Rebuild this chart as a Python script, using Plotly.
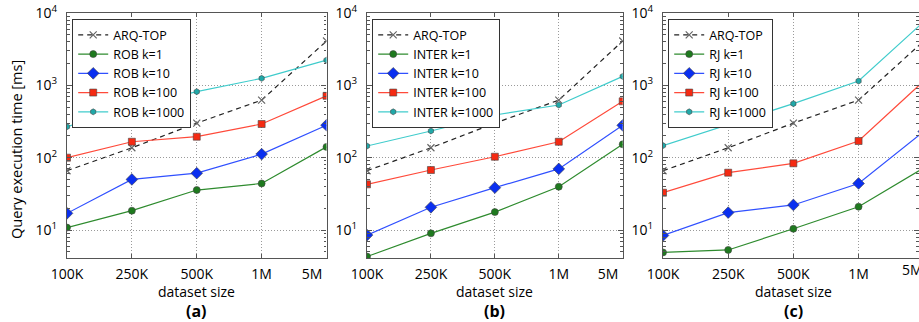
import plotly.graph_objects as go

# ---------------- data ----------------
categories = ["100K", "250K", "500K", "1M", "5M"]
x_tick_text_ab = ["100K", "250K", "500K", "1M", "5M" + "\u00a0" * 8]
x_tick_text_c = ["100K", "250K", "500K", "1M"]
y_tick_vals = [10, 100, 1000, 10000]
y_tick_text = ["10<sup>1</sup>", "10<sup>2</sup>", "10<sup>3</sup>", "10<sup>4</sup>"]
panel_letters = ["(a)", "(b)", "(c)"]
method_names = ["ROB", "INTER", "RJ"]
k_labels = ["k=1", "k=10", "k=100", "k=1000"]

arq_top = [66, 137, 300, 625, 4100]

rob_k1 = [10.8, 18.5, 35.7, 44, 141]
rob_k10 = [17, 50, 61, 112, 281]
rob_k100 = [100, 166, 195, 292, 715]
rob_k1000 = [268, 491, 817, 1250, 2230]

inter_k1 = [4.3, 9.0, 17.7, 39.7, 153]
inter_k10 = [8.5, 20.6, 38.5, 70, 280]
inter_k100 = [42.8, 67.5, 103, 166, 601]
inter_k1000 = [145, 234, 389, 535, 1330]

rj_k1 = [4.9, 5.3, 10.4, 21, 72]
rj_k10 = [8.4, 17.4, 22.2, 44, 230]
rj_k100 = [32.8, 62, 83.6, 170, 1150]
rj_k1000 = [147, 289, 558, 1148, 7600]

panel_series = [
    [rob_k1, rob_k10, rob_k100, rob_k1000],
    [inter_k1, inter_k10, inter_k100, inter_k1000],
    [rj_k1, rj_k10, rj_k100, rj_k1000],
]

# ---------------- styles ----------------
FONT = "Open Sans"
W, H = 919, 322
series_styles = [
    dict(line="#2e8b2e", fill="#1e7a1e", symbol="circle", size=7),
    dict(line="#3050ff", fill="#0a2ff0", symbol="diamond", size=9),
    dict(line="#ff4a3a", fill="#f52a12", symbol="square", size=7),
    dict(line="#40cccc", fill="#20a8a8", symbol="hexagon", size=6),
]

# pixel geometry of each panel (left, right) and visible x range
panel_px = [(67, 326.5), (367, 622.7), (663, 919)]
panel_xrange = [[0, 4], [0, 4], [0, 3.927]]
top_px, bot_px = 13, 258

fig = go.Figure()
axis_ids = ["", "2", "3"]
legend_ids = ["legend", "legend2", "legend3"]

for p in range(3):
    xa = "x" + axis_ids[p]
    ya = "y" + axis_ids[p]
    lg = legend_ids[p]
    fig.add_trace(go.Scatter(
        x=categories, y=arq_top, name="ARQ-TOP", mode="lines+markers",
        xaxis=xa, yaxis=ya, legend=lg,
        line=dict(color="#222222", width=1.2, dash="5px,4px"),
        marker=dict(symbol="x-thin", size=7, line=dict(color="#666666", width=1.2)),
    ))
    for i, vals in enumerate(panel_series[p]):
        st = series_styles[i]
        fig.add_trace(go.Scatter(
            x=categories, y=vals, name=f"{method_names[p]} {k_labels[i]}",
            mode="lines+markers", xaxis=xa, yaxis=ya, legend=lg,
            line=dict(color=st["line"], width=1.2),
            marker=dict(symbol=st["symbol"], size=st["size"], color=st["fill"],
                        line=dict(color="#444444", width=0.6)),
        ))

minor_vals = [m * 10 ** e for e in range(0, 4) for m in range(2, 10)]

common_x = dict(
    type="category", categoryorder="array", categoryarray=categories,
    showline=True, linecolor="#555555", linewidth=1.3, mirror="ticks",
    ticks="inside", ticklen=4, tickcolor="#555555",
    showgrid=True, gridcolor="#9a9a9a", griddash="1px,2px", gridwidth=1,
    tickfont=dict(family=FONT, size=14, color="black"),
    ticklabelstandoff=3, automargin=False,
    tickmode="array",
)
common_y = dict(
    type="log", range=[0.613, 4.0],
    showline=True, linecolor="#555555", linewidth=1.3, mirror="ticks",
    ticks="inside", ticklen=5, tickcolor="#555555",
    showgrid=True, gridcolor="#9a9a9a", griddash="1px,2px", gridwidth=1,
    tickmode="array", tickvals=y_tick_vals, ticktext=y_tick_text,
    tickfont=dict(family=FONT, size=14, color="black"),
    ticklabelstandoff=6, automargin=False,
    minor=dict(ticks="inside", ticklen=2.5, tickcolor="#555555", tickmode="array",
               tickvals=minor_vals, showgrid=False),
)

layout = dict(
    width=W, height=H, margin=dict(l=0, r=0, t=0, b=0, autoexpand=False),
    paper_bgcolor="white", plot_bgcolor="white",
    font=dict(family=FONT, color="black"),
    showlegend=True,
)
ydom = [1 - bot_px / H, 1 - top_px / H]
for p in range(3):
    l, r = panel_px[p]
    xk = "xaxis" + axis_ids[p]
    yk = "yaxis" + axis_ids[p]
    xd = dict(common_x)
    xd.update(domain=[l / W, r / W], range=panel_xrange[p], anchor="y" + axis_ids[p],
              tickvals=categories[:4] if p == 2 else categories,
              ticktext=x_tick_text_c if p == 2 else x_tick_text_ab)
    yd = dict(common_y)
    yd.update(domain=ydom, anchor="x" + axis_ids[p])
    layout[xk] = xd
    layout[yk] = yd
    layout[legend_ids[p]] = dict(
        x=(l + 5) / W, y=1 - 19 / H, xanchor="left", yanchor="top",
        bgcolor="white", bordercolor="#333333", borderwidth=1.2,
        font=dict(family=FONT, size=12.5, color="black"),
        tracegroupgap=0, itemwidth=30,
    )

fig.update_layout(**layout)

annotations = [
    dict(text="Query execution time [ms]", xref="paper", yref="paper",
         x=16 / W, y=1 - 150 / H, textangle=-90, showarrow=False,
         font=dict(family=FONT, size=14.5, color="black"),
         xanchor="center", yanchor="middle"),
    # partially visible last tick label of panel (c)
    dict(text="5M", xref="paper", yref="paper", x=900 / W, y=1 - 269 / H,
         xanchor="left", yanchor="middle", showarrow=False,
         font=dict(family=FONT, size=14, color="black")),
]
for p in range(3):
    l, r = panel_px[p]
    cx = (l + (r if p < 2 else 923.7)) / 2
    annotations.append(dict(
        text="dataset size", xref="paper", yref="paper",
        x=cx / W, y=1 - 291 / H, xanchor="center", yanchor="middle",
        showarrow=False, font=dict(family=FONT, size=14, color="black")))
    annotations.append(dict(
        text=f"<b>{panel_letters[p]}</b>", xref="paper", yref="paper",
        x=cx / W, y=1 - 311 / H, xanchor="center", yanchor="middle",
        showarrow=False, font=dict(family=FONT, size=16, color="black")))
fig.update_layout(annotations=annotations)

fig.write_html(
    "out.html",
    config={"displayModeBar": False},
    post_script="document.body.style.margin='0';document.body.style.overflow='hidden';",
)
